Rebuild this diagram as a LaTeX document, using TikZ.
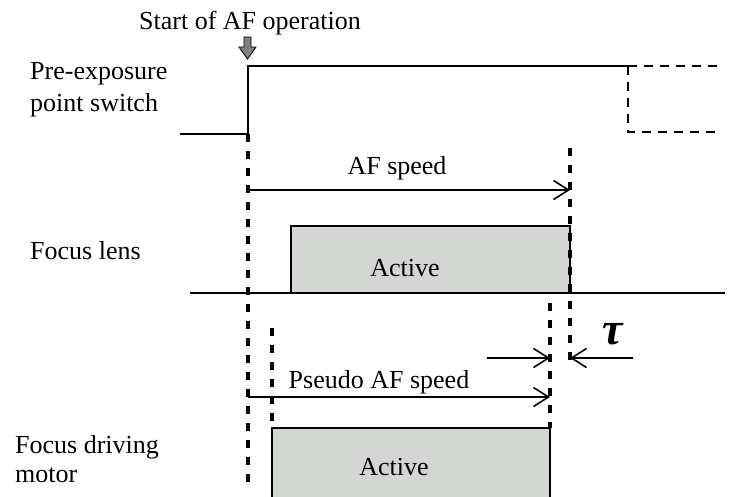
\documentclass[tikz,border=0pt]{standalone}
\usepackage{fontspec}
\setmainfont{Liberation Serif}
\usetikzlibrary{arrows.meta}
\definecolor{boxgray}{RGB}{212,214,212}
\definecolor{markgray}{RGB}{128,128,128}
\begin{document}
\begin{tikzpicture}[x=1pt,y=-1pt,
  lbl/.style={font=\fontsize{26}{32}\selectfont, inner sep=0pt, anchor=base},
  sig/.style={line width=2.8pt},
  sigdash/.style={line width=2.8pt, dash pattern=on 9pt off 7pt},
  guide/.style={line width=3.6pt, dash pattern=on 8pt off 9pt},
  span/.style={line width=1.6pt, -{Straight Barb[length=15pt,width=19pt,line width=1.6pt]}},
  activebox/.style={draw, line width=2.8pt, fill=boxgray},
]
\clip (0,0) rectangle (744,496);

% key time points
\coordinate (t0low)  at (248,134);
\coordinate (t0high) at (248,66);
\coordinate (t0end)  at (248,490);
\coordinate (lensend)  at (570,148);
\coordinate (lensendb) at (570,364);
\coordinate (motstart) at (272,328);
\coordinate (motstartb) at (272,428);
\coordinate (motend)  at (550,303);
\coordinate (motendb) at (550,428);

% pre-exposure point switch signal
\coordinate (swlow) at (180,134);
\coordinate (swfall) at (628,66);
\coordinate (swtop) at (720,66);
\coordinate (swbot) at (628,132);
\coordinate (swbotend) at (716,132);
\draw[sig] (swlow) -- (t0low) -- (t0high) -- (swfall);
\draw[sigdash] (swfall) -- (swtop);
\draw[sigdash] (swfall) -- (swbot) -- (swbotend);

% start marker
\draw[line width=0.8pt, fill=markgray]
  (244,37) -- (251,37) -- (251,47) -- (256,47) -- (247.5,59) -- (239,47) -- (244,47) -- cycle;
\node[lbl] (start) at (250,29) {Start of AF operation};

% row labels
\node[lbl, anchor=base west] (sw1) at (30,79) {Pre-exposure};
\node[lbl, anchor=base west] (sw2) at (30,111) {point switch};
\node[lbl, anchor=base west] (lens) at (30,259) {Focus lens};
\node[lbl, anchor=base west] (mot1) at (15,453) {Focus driving};
\node[lbl, anchor=base west] (mot2) at (15,482) {motor};

% focus lens activity
\coordinate (baseL) at (190,293);
\coordinate (baseR) at (725,293);
\draw[activebox] (291,293) rectangle (570,226);
\draw[sig] (baseL) -- (baseR);
\node[lbl] (lensact) at (405,276) {Active};

% focus driving motor activity
\draw[activebox] (272,428) rectangle (550,502);
\node[lbl] (motact) at (394,475) {Active};

% guide lines
\draw[guide] (t0low) -- (t0end);
\draw[guide] (lensend) -- (lensendb);
\draw[guide] (motstart) -- (motstartb);
\draw[guide] (motend) -- (motendb);

% AF speed
\coordinate (afA) at (248,190);
\coordinate (afB) at (570,190);
\draw[span] (afA) -- (afB);
\node[lbl] (aflbl) at (397,174) {AF speed};

% pseudo AF speed
\coordinate (pafA) at (248,397);
\coordinate (pafB) at (550,397);
\draw[span] (pafA) -- (pafB);
\node[lbl] (paflbl) at (379,388) {Pseudo AF speed};

% delay tau
\coordinate (tauL0) at (487,358);
\coordinate (tauL1) at (550,358);
\coordinate (tauR0) at (633,358);
\coordinate (tauR1) at (570,358);
\draw[span] (tauL0) -- (tauL1);
\draw[span] (tauR0) -- (tauR1);
\node[font=\fontsize{46}{46}\selectfont\itshape\bfseries, inner sep=0pt] (tau) at (613,334) {τ};
\end{tikzpicture}
\end{document}
